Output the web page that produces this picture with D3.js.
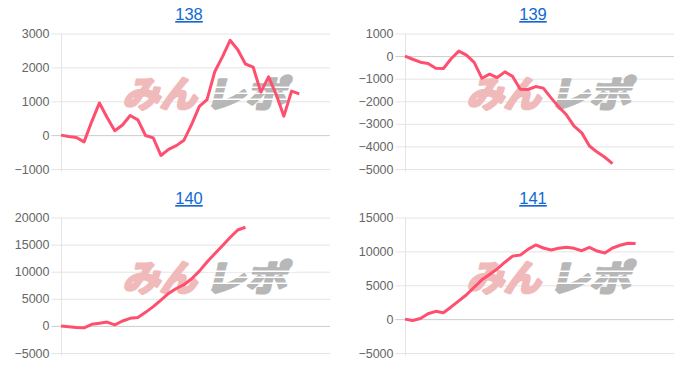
<!DOCTYPE html>
<html>
<head>
<meta charset="utf-8">
<script src="https://cdn.jsdelivr.net/npm/d3@7"></script>
<style>
  body { margin: 0; background: #fff; }
  svg { display: block; }
</style>
</head>
<body>
<svg id="chart" width="700" height="368"></svg>
<script>
// x categories (not shown on the chart)
const labels = ["1","2","3","4","5","6","7","8","9","10","11","12","13","14","15","16","17","18",
                "19","20","21","22","23","24","25","26","27","28","29","30","31","32","33","34","35","36"];

const titles = ["138", "139", "140", "141"];

const s138 = [0, -40, -70, -200, 400, 950, 520, 130, 300, 580, 450, -10, -80, -600, -420, -310,
              -150, 320, 850, 1050, 1870, 2310, 2800, 2520, 2100, 2010, 1270, 1720, 1200, 560, 1300, 1220];
const s139 = [0, -140, -270, -330, -540, -550, -120, 220, 40, -280, -980, -800, -950, -700, -900, -1470,
              -1480, -1350, -1420, -1850, -2250, -2600, -3100, -3400, -3980, -4250, -4480, -4760];
const s140 = [0, -150, -300, -350, 300, 500, 700, 200, 900, 1400, 1550, 2500, 3550, 4750, 6000, 6900,
              7600, 8700, 10100, 11800, 13300, 14800, 16300, 17700, 18200];
const s141 = [0, -200, 100, 800, 1150, 950, 1800, 2700, 3600, 4700, 5800, 6600, 7400, 8400, 9300, 9450,
              10300, 10950, 10500, 10200, 10450, 10600, 10450, 10100, 10600, 10050, 9750, 10500, 10900, 11200, 11150];

const ticks138 = [3000, 2000, 1000, 0, -1000];
const ticks139 = [1000, 0, -1000, -2000, -3000, -4000, -5000];
const ticks140 = [20000, 15000, 10000, 5000, 0, -5000];
const ticks141 = [15000, 10000, 5000, 0, -5000];

const panels = [
  {title: titles[0], values: s138, ticks: ticks138, col: 0, row: 0},
  {title: titles[1], values: s139, ticks: ticks139, col: 1, row: 0},
  {title: titles[2], values: s140, ticks: ticks140, col: 0, row: 1},
  {title: titles[3], values: s141, ticks: ticks141, col: 1, row: 1}
];

const svg = d3.select('#chart');
const colW = 344, rowH = 184;
const plotL = 61, plotR = 330, plotT = 33.5, plotB = 169;
const font = '"Liberation Sans", Arial, Helvetica, sans-serif';

panels.forEach(p => {
  const g = svg.append('g')
    .attr('transform', 'translate(' + (p.col * colW) + ',' + (p.row * rowH) + ')');

  const x = d3.scalePoint().domain(labels).range([plotL, plotR]);
  const y = d3.scaleLinear().domain(d3.extent(p.ticks)).range([plotB, plotT]);

  // title link
  g.append('text')
    .attr('x', 189)
    .attr('y', 20)
    .attr('text-anchor', 'middle')
    .attr('font-family', font)
    .attr('font-size', 16.5)
    .attr('fill', '#1269d3')
    .attr('text-decoration', 'underline')
    .text(p.title);

  // y axis drawn from the right edge so ticks act as grid lines
  const yAxis = d3.axisLeft(y)
    .tickValues(p.ticks)
    .tickSizeInner(plotR - plotL + 9.5)
    .tickSizeOuter(0)
    .tickPadding(2)
    .tickFormat(d3.format('d'));

  const ax = g.append('g')
    .attr('transform', 'translate(' + plotR + ',0)')
    .call(yAxis);
  ax.select('.domain').remove();
  ax.selectAll('line')
    .attr('stroke', d => d === 0 ? '#cccccc' : '#e4e4e4')
    .attr('stroke-width', 1);
  ax.selectAll('text')
    .attr('font-family', font)
    .attr('font-size', 12.5)
    .attr('fill', '#666');

  // left border
  g.append('line')
    .attr('x1', plotL + 0.5).attr('x2', plotL + 0.5)
    .attr('y1', plotT).attr('y2', plotB + 3)
    .attr('stroke', '#e4e4e4');

  // watermark
  const wm = g.append('g')
    .attr('transform', 'translate(' + (plotL + 145) + ',' + (plotT + 59) + ') skewX(-14)');
  wm.append('text')
    .attr('x', -80).attr('y', 14)
    .attr('font-family', '"Noto Sans CJK JP", sans-serif')
    .attr('font-weight', 700)
    .attr('font-size', 36)
    .attr('textLength', 74)
    .attr('lengthAdjust', 'spacingAndGlyphs')
    .attr('fill', '#f0baba')
    .attr('stroke', '#f0baba')
    .attr('stroke-width', 3)
    .attr('stroke-linejoin', 'round')
    .text('みん');
  wm.append('text')
    .attr('x', 2).attr('y', 14)
    .attr('font-family', '"Noto Sans CJK JP", sans-serif')
    .attr('font-weight', 700)
    .attr('font-size', 36)
    .attr('textLength', 82)
    .attr('lengthAdjust', 'spacingAndGlyphs')
    .attr('fill', '#b7b7b7')
    .attr('stroke', '#b7b7b7')
    .attr('stroke-width', 3)
    .attr('stroke-linejoin', 'round')
    .text('レポ');
  // speed stripes across the grey part
  wm.selectAll('rect.stripe')
    .data([-6, 0, 6])
    .enter().append('rect')
    .attr('x', -2).attr('y', d => d)
    .attr('width', 92).attr('height', 1.6)
    .attr('fill', '#fff');

  // line
  const line = d3.line()
    .x((d, i) => x(labels[i]))
    .y(d => y(d));

  g.append('path')
    .datum(p.values)
    .attr('d', line)
    .attr('fill', 'none')
    .attr('stroke', '#ff4f6e')
    .attr('stroke-width', 3)
    .attr('stroke-linejoin', 'round');
});
</script>
</body>
</html>
